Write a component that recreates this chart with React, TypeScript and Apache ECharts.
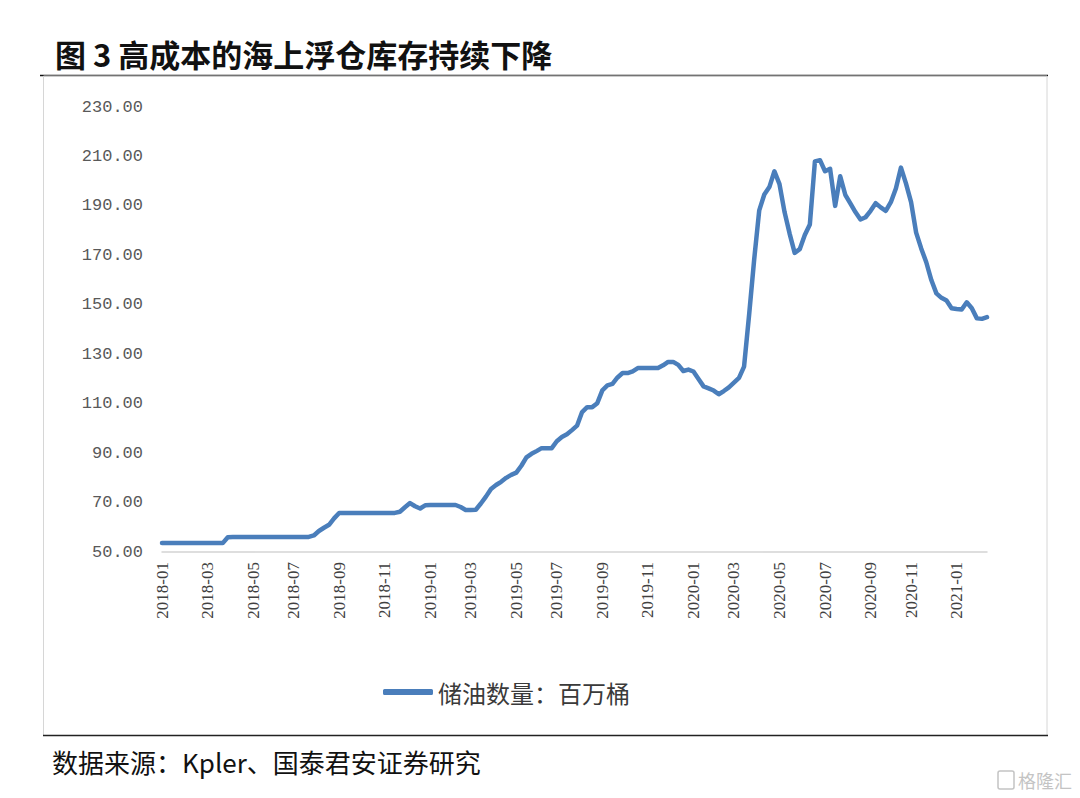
import React, { useEffect, useRef } from 'react';
import * as echarts from 'echarts';

const titleText = '图 3 高成本的海上浮仓库存持续下降';
const sourceText = '数据来源：Kpler、国泰君安证券研究';
const seriesName = '储油数量：百万桶';
const startDate = '2018-01-01';
const yMin = 50;
const yMax = 230;
const yStep = 20;

// weekly floating storage, million barrels
const storage = [
  53.6, 53.6, 53.6, 53.6, 53.6, 53.6, 53.6, 53.6, 53.6, 53.6, 53.6, 53.6, 53.6,
  56.0,
  56.1, 56.1, 56.1, 56.1, 56.1, 56.1, 56.1, 56.1, 56.1, 56.1, 56.1, 56.1, 56.1, 56.1, 56.1, 56.1,
  56.7, 58.5, 59.8, 61.0, 63.6,
  65.8, 65.8, 65.8, 65.8, 65.8, 65.8, 65.8, 65.8, 65.8, 65.8, 65.8, 65.8,
  66.3, 68.1, 69.8, 68.5, 67.6, 68.9,
  69.0, 69.0, 69.0, 69.0, 69.0, 69.0,
  68.2, 67.0, 67.0, 67.1, 69.6, 72.4, 75.5, 77.1, 78.4, 80.0,
  81.2, 82.1, 84.9, 88.3, 89.7, 90.8, 92.0, 92.0, 92.0, 94.8,
  96.5, 97.6, 99.3, 101.1, 106.6, 108.6, 108.6, 110.2, 115.4, 117.4,
  118.0, 120.6, 122.4, 122.4, 123.1,
  124.4, 124.4, 124.4, 124.4, 124.4,
  125.5, 126.9, 126.9, 125.7, 123.2, 123.8, 123.0, 120.0, 117.0, 116.2,
  115.3, 113.8, 115.1, 116.6, 118.5, 120.4, 125.0, 146.0, 168.3, 188.2,
  194.6, 197.6, 204.0, 198.8, 187.5, 178.8, 171.0, 172.5, 178.2, 182.5,
  208.0, 208.5, 204.0, 205.0, 190.0, 202.0, 194.5, 191.0, 187.5, 184.5,
  185.4, 188.0, 191.1, 189.4, 188.0, 191.5, 197.0, 205.5, 199.0, 191.5,
  179.2, 172.8, 167.2, 160.0, 154.6, 152.8, 151.7, 148.6, 148.3, 148.1,
  151.0, 148.6, 144.5, 144.3, 145.0,
];

function pad(n: number) {
  return n < 10 ? '0' + n : String(n);
}

function buildWeeks(start: string, count: number): string[] {
  const out: string[] = [];
  const base = new Date(start + 'T00:00:00Z').getTime();
  for (let i = 0; i < count; i++) {
    const d = new Date(base + i * 7 * 86400000);
    out.push(d.getUTCFullYear() + '-' + pad(d.getUTCMonth() + 1) + '-' + pad(d.getUTCDate()));
  }
  return out;
}

const weeks = buildWeeks(startDate, storage.length);

export default function App() {
  const ref = useRef<HTMLDivElement>(null);

  useEffect(() => {
    if (!ref.current) return;
    const chart = echarts.init(ref.current, null, { renderer: 'svg' });
    const showLabel = (index: number, value: string) => {
      const m = Number(value.slice(5, 7));
      if (index === 0) return true;
      const prev = weeks[index - 1];
      if (!prev) return false;
      return prev.slice(5, 7) !== value.slice(5, 7) && m % 2 === 1;
    };
    chart.setOption({
      animation: false,
      backgroundColor: '#ffffff',
      grid: { left: 162, right: 93, top: 107, bottom: 246, containLabel: false },
      legend: {
        show: true,
        left: 378,
        top: 675,
        icon: 'roundRect',
        itemWidth: 50,
        itemHeight: 6,
        textStyle: {
          fontFamily: '"Noto Sans CJK SC"',
          fontSize: 24,
          color: '#3a3a3a',
        },
        data: [seriesName],
      },
      xAxis: {
        type: 'category',
        data: weeks,
        boundaryGap: false,
        axisLine: { show: true, lineStyle: { color: '#d4d4d4', width: 1.5 } },
        axisTick: { show: false },
        splitLine: { show: false },
        axisLabel: {
          interval: showLabel,
          rotate: 90,
          margin: 10,
          fontFamily: '"Liberation Serif"',
          fontSize: 17,
          color: '#404040',
          formatter: (v: string) => v.slice(0, 7),
        },
      },
      yAxis: {
        type: 'value',
        min: yMin,
        max: yMax,
        interval: yStep,
        axisLine: { show: false },
        axisTick: { show: false },
        splitLine: { show: false },
        axisLabel: {
          margin: 19,
          fontFamily: '"Liberation Mono"',
          fontSize: 17,
          color: '#595959',
          formatter: (v: number) => v.toFixed(2),
        },
      },
      series: [
        {
          name: seriesName,
          type: 'line',
          data: storage,
          symbol: 'none',
          showSymbol: false,
          smooth: false,
          itemStyle: { color: '#4a7ebb' },
          lineStyle: { color: '#4a7ebb', width: 4.5, join: 'round', cap: 'round' },
        },
      ],
      graphic: [
        {
          type: 'text',
          x: 55,
          y: 53,
          style: {
            text: titleText,
            fontFamily: '"Noto Sans CJK SC"',
            fontWeight: 'bold',
            fontSize: 31,
            fill: '#111111',
            verticalAlign: 'middle',
          },
        },
        {
          type: 'line',
          shape: { x1: 40, y1: 75.5, x2: 1048, y2: 75.5 },
          style: { stroke: '#111111', lineWidth: 1.5 },
        },
        {
          type: 'rect',
          shape: { x: 43.5, y: 76, width: 1003.5, height: 659.5 },
          style: { stroke: '#d6d6d6', fill: 'none', lineWidth: 1 },
        },
        {
          type: 'line',
          shape: { x1: 43, y1: 735.5, x2: 1048, y2: 735.5 },
          style: { stroke: '#222222', lineWidth: 1.5 },
        },
        {
          type: 'text',
          x: 52,
          y: 761,
          style: {
            text: sourceText,
            fontFamily: '"Noto Sans CJK SC"',
            fontSize: 26,
            fill: '#111111',
            verticalAlign: 'middle',
          },
        },
        {
          type: 'rect',
          shape: { x: 998, y: 771, width: 16, height: 18, r: 2 },
          style: { stroke: '#c4c4c4', fill: 'none', lineWidth: 1.5 },
        },
        {
          type: 'text',
          x: 1018,
          y: 780,
          style: {
            text: '格隆汇',
            fontFamily: '"Noto Sans CJK SC"',
            fontSize: 18,
            fill: '#c4c4c4',
            verticalAlign: 'middle',
          },
        },
      ],
    });
    return () => chart.dispose();
  }, []);

  return (
    <div
      ref={ref}
      style={{ position: 'absolute', left: 0, top: 0, width: 1080, height: 798, background: '#fff' }}
    />
  );
}
